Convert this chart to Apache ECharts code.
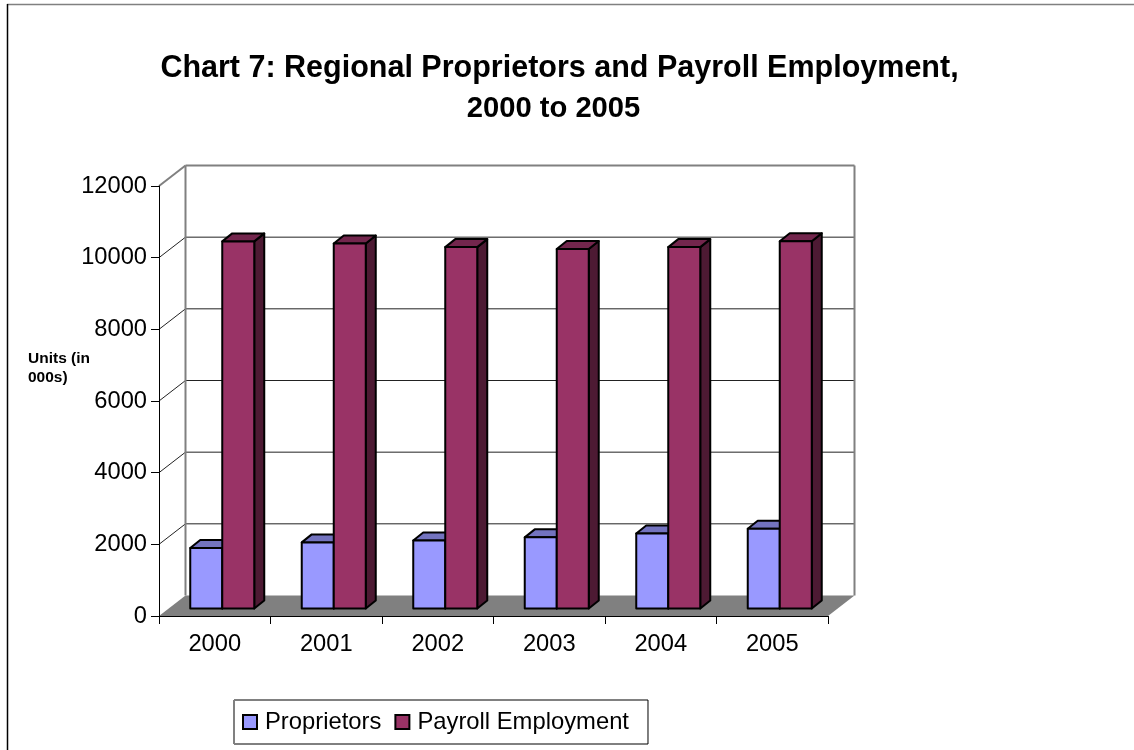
<!DOCTYPE html>
<html>
<head>
<meta charset="utf-8">
<style>html,body{margin:0;padding:0;background:#fff}#c{width:1134px;height:750px}</style>
<script src="https://cdn.jsdelivr.net/npm/echarts@6/dist/echarts.min.js"></script>
</head>
<body>
<div id="c"></div>
<script>
var categories = ['2000','2001','2002','2003','2004','2005'];
var proprietors = [1690,1845,1900,1985,2095,2225];
var payroll = [10245,10185,10085,10030,10085,10250];
var yTicks = [0,2000,4000,6000,8000,10000,12000];

var FONT = '"Liberation Sans", Arial, sans-serif';
var WALL_DX = 26.5, WALL_DY = -20.5;   // depth of the chart box
var BAR_OFF_X = 7.5, BAR_OFF_Y = -7.5; // bar front plane offset
var BAR_DX = 10, BAR_DY = -8;          // bar depth
var BAR_RATIO = 0.287;

function barRender(colors, side) {
  return function (params, api) {
    var idx = api.value(0), val = api.value(1);
    var base = api.coord([idx, 0]), top = api.coord([idx, val]);
    var w = api.size([1, 0])[0] * BAR_RATIO;
    var x0 = base[0] + BAR_OFF_X + (side === 0 ? -w : 0), x1 = x0 + w;
    var yb = base[1] + BAR_OFF_Y, yt = top[1] + BAR_OFF_Y;
    var st = {stroke: '#000', lineWidth: 2, lineJoin: 'round'};
    function poly(points, fill) {
      return {type: 'polygon', shape: {points: points}, style: Object.assign({fill: fill}, st)};
    }
    return {type: 'group', children: [
      poly([[x1,yb],[x1+BAR_DX,yb+BAR_DY],[x1+BAR_DX,yt+BAR_DY],[x1,yt]], colors.side),
      poly([[x0,yt],[x1,yt],[x1+BAR_DX,yt+BAR_DY],[x0+BAR_DX,yt+BAR_DY]], colors.top),
      poly([[x0,yb],[x1,yb],[x1,yt],[x0,yt]], colors.front)
    ]};
  };
}

function wallRender(params, api) {
  var cs = params.coordSys;
  var left = cs.x, right = cs.x + cs.width;
  var v = api.value(0);
  var y = api.coord([0, v])[1];
  var lx = left + WALL_DX, rx = right + WALL_DX, by = y + WALL_DY;
  if (v === 0) {
    return {type: 'group', children: [
      {type: 'polygon', shape: {points: [[left,y],[right,y],[rx,by],[lx,by]]}, style: {fill: '#808080', stroke: null}}
    ]};
  }
  var isTop = v === yTicks[yTicks.length - 1];
  var st = isTop ? {stroke: '#808080', lineWidth: 2} : {stroke: '#222', lineWidth: 1};
  var kids = [
    {type: 'line', shape: {x1: left, y1: y, x2: lx, y2: by}, style: st},
    {type: 'line', shape: {x1: lx, y1: by, x2: rx, y2: by}, style: st}
  ];
  if (isTop) {
    var fy = api.coord([0, 0])[1] + WALL_DY;
    kids.push({type: 'line', shape: {x1: lx, y1: by, x2: lx, y2: fy}, style: st});
    kids.push({type: 'line', shape: {x1: rx, y1: by, x2: rx, y2: fy}, style: st});
  }
  return {type: 'group', children: kids};
}

var chart = echarts.init(document.getElementById('c'), null, {renderer: 'canvas'});
chart.setOption({
  animation: false,
  backgroundColor: '#fff',
  title: [
    {text: 'Chart 7: Regional Proprietors and Payroll Employment,',
     left: 559.5, top: 51, padding: 0, textAlign: 'center',
     textStyle: {fontFamily: FONT, fontWeight: 'bold', fontSize: 30.5, lineHeight: 36, color: '#000'}},
    {text: '2000 to 2005',
     left: 553.5, top: 91, padding: 0, textAlign: 'center',
     textStyle: {fontFamily: FONT, fontWeight: 'bold', fontSize: 29.2, lineHeight: 36, color: '#000'}},
    {text: 'Units (in\n000s)', left: 28, top: 349, padding: 0,
     textStyle: {fontFamily: FONT, fontWeight: 'bold', fontSize: 15.5, lineHeight: 19, color: '#000'}}
  ],
  grid: {left: 159, top: 186, width: 669, height: 430, containLabel: false},
  xAxis: {
    type: 'category', data: categories, z: 5,
    axisLine: {lineStyle: {color: '#000', width: 1}},
    axisTick: {show: true, alignWithLabel: false, length: 8, lineStyle: {color: '#000'}},
    axisLabel: {fontFamily: FONT, fontSize: 23.7, color: '#000', margin: 16},
    splitLine: {show: false}
  },
  yAxis: {
    type: 'value', min: 0, max: 12000, interval: 2000, z: 5,
    axisLine: {show: true, lineStyle: {color: '#000', width: 1}},
    axisTick: {show: true, length: 8, lineStyle: {color: '#000'}},
    axisLabel: {fontFamily: FONT, fontSize: 23.7, color: '#000', margin: 12, padding: [2, 0, 0, 0],
                formatter: function (v) { return String(v); }},
    splitLine: {show: false}
  },
  legend: {
    left: 234, top: 700, padding: [10, 19, 10, 8], itemGap: 13,
    itemWidth: 14, itemHeight: 14, icon: 'rect',
    borderColor: '#000', borderWidth: 1, backgroundColor: '#fff',
    textStyle: {fontFamily: FONT, fontSize: 23.8, color: '#000', padding: [0, 0, 0, 3]},
    selectedMode: false,
    data: [
      {name: 'Proprietors', itemStyle: {color: '#9999FF', borderColor: '#000', borderWidth: 2}},
      {name: 'Payroll Employment', itemStyle: {color: '#993366', borderColor: '#000', borderWidth: 2}}
    ]
  },
  series: [
    {type: 'custom', name: 'walls', coordinateSystem: 'cartesian2d', clip: false, z: 1, silent: true,
     renderItem: wallRender, encode: {y: 0},
     data: yTicks.map(function (t) { return [t]; })},
    {type: 'custom', name: 'Proprietors', coordinateSystem: 'cartesian2d', clip: false, z: 2,
     itemStyle: {color: '#9999FF'}, encode: {x: 0, y: 1},
     renderItem: barRender({front: '#9999FF', top: '#7373BF', side: '#4D4D80'}, 0),
     data: proprietors.map(function (v, i) { return [i, v]; })},
    {type: 'custom', name: 'Payroll Employment', coordinateSystem: 'cartesian2d', clip: false, z: 3,
     itemStyle: {color: '#993366'}, encode: {x: 0, y: 1},
     renderItem: barRender({front: '#993366', top: '#73264D', side: '#4D1A33'}, 1),
     data: payroll.map(function (v, i) { return [i, v]; })}
  ],
  graphic: [
    {type: 'line', z: 100, shape: {x1: 7, y1: 4.5, x2: 1134, y2: 4.5}, style: {stroke: '#808080', lineWidth: 1.5}},
    {type: 'line', z: 100, shape: {x1: 7.5, y1: 4, x2: 7.5, y2: 750}, style: {stroke: '#000', lineWidth: 1.5}},
    {type: 'line', z: 100, shape: {x1: 234, y1: 700.5, x2: 647, y2: 700.5}, style: {stroke: '#808080', lineWidth: 1}},
    {type: 'line', z: 100, shape: {x1: 234.5, y1: 700, x2: 234.5, y2: 744}, style: {stroke: '#808080', lineWidth: 1}}
  ]
});
</script>
</body>
</html>
